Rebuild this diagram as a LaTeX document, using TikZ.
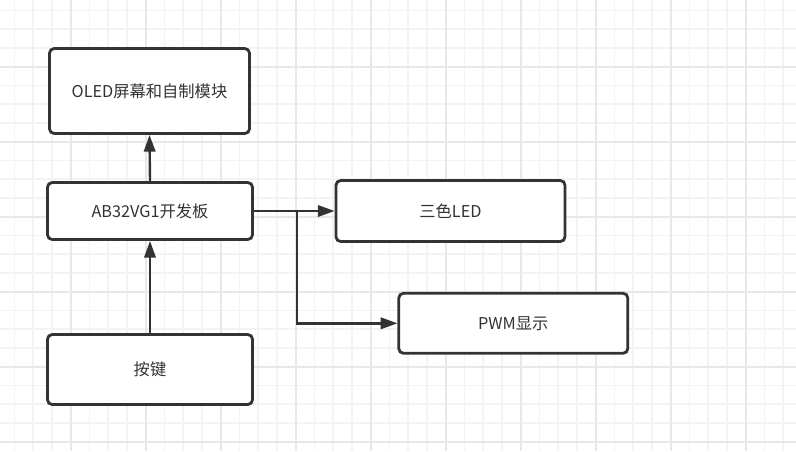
\documentclass[tikz,border=0pt]{standalone}
\usepackage{fontspec}
\setmainfont{Noto Sans CJK SC}
\usetikzlibrary{arrows.meta}
\definecolor{ink}{HTML}{333333}
\definecolor{gridminor}{HTML}{F3F3F3}
\definecolor{gridmajor}{HTML}{E8E8E8}
\tikzset{
  box/.style={draw=ink, line width=2.1pt, rounded corners=3.5pt, fill=white, text=ink,
    font=\fontsize{12.2}{15}\selectfont, inner sep=0pt, align=center},
  conn/.style={draw=ink, line width=1.8pt, -{Triangle[length=12.5pt,width=8.5pt]}},
  gminor/.style={draw=gridminor, line width=1.1pt},
  gmajor/.style={draw=gridmajor, line width=1.2pt}
}
\begin{document}
\begin{tikzpicture}[x=0.75pt,y=-0.75pt]
\useasboundingbox (0,0) rectangle (796,451);
\fill[white] (0,0) rectangle (796,451);
% grid
\foreach \i in {1,...,42} { \draw[gminor] ({-4.3+18.75*\i},0) -- ({-4.3+18.75*\i},451); }
\foreach \j in {0,...,23} { \draw[gminor] (0,{10.45+18.75*\j}) -- (796,{10.45+18.75*\j}); }
\foreach \i in {4,8,...,40} { \draw[gmajor] ({-4.3+18.75*\i},0) -- ({-4.3+18.75*\i},451); }
\foreach \j in {3,7,...,23} { \draw[gmajor] (0,{10.45+18.75*\j}) -- (796,{10.45+18.75*\j}); }
% nodes
\node[box, minimum width={200*0.75pt}, minimum height={85*0.75pt}] (oled) at (149.5,91) {OLED屏幕和自制模块};
\node[box, minimum width={205*0.75pt}, minimum height={57*0.75pt}] (ab) at (150,211) {AB32VG1开发板};
\node[box, minimum width={205*0.75pt}, minimum height={70*0.75pt}] (key) at (150,369.5) {按键};
\node[box, minimum width={229*0.75pt}, minimum height={61*0.75pt}] (led) at (450.5,211) {三色LED};
\node[box, minimum width={229*0.75pt}, minimum height={60*0.75pt}] (pwm) at (513.3,323.3) {PWM显示};
\coordinate (split) at (297,211);
% connectors
\draw[conn] (ab.north) -- (oled.south);
\draw[conn] (key.north) -- (ab.south);
\draw[conn] (ab.east) -- (led.west);
\draw[conn] (ab.east) -- (split) |- (pwm.west);
\end{tikzpicture}
\end{document}
